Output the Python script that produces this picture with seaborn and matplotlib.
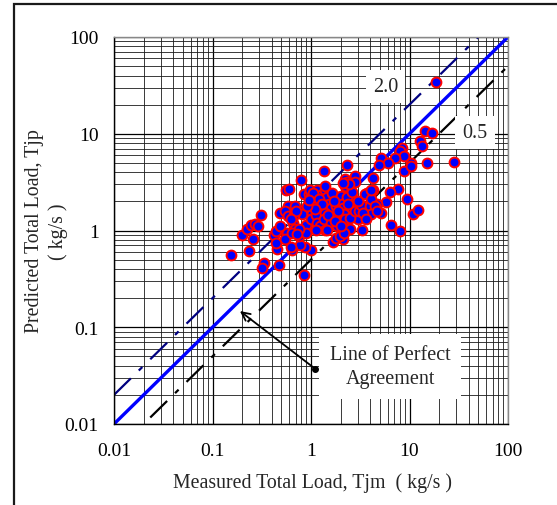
import matplotlib
matplotlib.use("Agg")
import matplotlib.pyplot as plt
import matplotlib.ticker as mticker
from matplotlib.patches import Rectangle
import numpy as np
import pandas as pd
import seaborn as sns

# ---- data ----
measured = [18.6, 14.5, 17.1, 12.8, 13.3, 8.4, 8.1, 8.8, 7.1, 5.1, 6.0, 4.9, 10.4, 15.1, 28.2,
            8.8, 10.4, 2.3, 1.34, 0.80, 4.3, 2.8, 2.8, 2.2, 7.6, 6.4, 5.8, 9.4, 4.3, 3.66,
            10.8, 12.2, 6.5, 8.1, 3.3, 2.5, 5.1, 4.0, 4.7, 3.0, 2.1, 1.66, 1.8, 0.85, 1.0,
            0.86, 0.78, 0.64, 0.62, 0.47, 0.45, 0.33, 0.32, 0.154, 0.233, 0.198, 0.26, 0.224, 0.245,
            0.27, 0.29, 0.31, 0.42, 0.44, 0.44, 0.49, 0.56, 0.6, 0.58, 0.55, 0.58, 0.57, 0.55,
            0.80, 0.81, 0.66, 0.69, 0.75, 0.86, 0.88, 0.85, 0.96, 0.99, 0.98, 1.04, 1.02, 0.99,
            1.13, 1.16, 1.23, 1.16, 1.26, 1.39, 1.45, 1.52, 1.59, 1.39, 1.34, 1.39, 1.59, 1.72,
            1.8, 1.85, 1.65, 2.03, 2.07, 2.12, 2.2, 2.3, 2.15, 2.2, 2.5, 2.6, 2.7, 2.8, 3.1,
            3.2, 3.5, 4.0, 4.1, 4.5, 4.1, 4.7, 4.1, 1.96, 2.15, 1.85, 1.45, 1.12, 0.88, 0.75,
            0.64, 0.49, 0.67, 0.69, 0.72, 1.05, 1.2, 1.3, 1.1, 1.7, 1.9, 2.3, 2.4, 2.6, 3.0,
            3.4, 3.6, 0.92, 0.7, 0.62, 1.5, 1.75, 2.0, 2.45, 2.1, 1.4, 0.95]
predicted = [34.2, 10.8, 10.2, 8.4, 7.4, 7.2, 6.6, 5.9, 5.6, 5.6, 5.0, 4.7, 5.0, 5.0, 5.1,
             4.1, 4.6, 4.8, 4.1, 3.3, 3.45, 3.65, 3.2, 3.4, 2.7, 2.5, 1.98, 2.1, 2.65, 2.45,
             1.47, 1.62, 1.13, 1.0, 1.02, 1.03, 1.52, 1.61, 1.86, 1.32, 0.81, 0.76, 0.84, 0.35, 0.63,
             0.67, 0.70, 0.63, 0.67, 0.44, 0.64, 0.46, 0.41, 0.56, 0.61, 0.89, 0.82, 1.04, 1.15,
             1.16, 1.1, 1.43, 0.89, 1.0, 0.74, 1.52, 2.6, 2.7, 1.79, 1.6, 1.4, 0.95, 0.82,
             1.58, 1.47, 1.2, 1.03, 0.87, 1.03, 1.15, 2.4, 2.4, 2.2, 2.6, 1.79, 1.52, 1.3,
             1.43, 1.2, 1.1, 2.6, 2.35, 2.6, 2.2, 1.9, 1.7, 1.52, 1.3, 1.02, 1.2, 1.38,
             1.79, 2.2, 2.45, 2.3, 1.9, 1.72, 2.9, 3.2, 1.47, 1.3, 1.35, 1.72, 2.1, 1.6, 1.6,
             1.85, 2.4, 1.79, 2.1, 1.79, 1.47, 1.6, 2.6, 0.87, 0.95, 1.1, 1.02, 1.02, 0.95, 1.03,
             0.95, 1.1, 1.43, 1.79, 0.91, 2.45, 2.1, 1.9, 1.65, 2.0, 1.6, 2.2, 1.9, 2.5, 2.0,
             1.5, 1.3, 1.8, 1.6, 1.3, 1.45, 1.25, 1.1, 3.0, 3.1, 2.9, 2.05]

ref_x = [0.01, 100.0]           # extent of the reference lines
ratios = [1.0, 2.0, 0.5]         # perfect agreement, 2.0 and 0.5 bands
tick_values = [0.01, 0.1, 1, 10, 100]
tick_labels = ["0.01", "0.1", "1", "10", "100"]

df = pd.DataFrame({"Tjm": measured, "Tjp": predicted})

# ---- style ----
sns.set_style("white")
plt.rcParams["font.family"] = ["Liberation Serif", "DejaVu Serif"]
plt.rcParams["lines.scale_dashes"] = False

fig = plt.figure(figsize=(5.57, 5.06), dpi=100)
ax = fig.add_axes([114 / 557, 1 - 425 / 506, 394 / 557, 387 / 506])

ax.set_xscale("log")
ax.set_yscale("log")
ax.set_xlim(0.01, 100)
ax.set_ylim(0.01, 100)

# grid
ax.set_axisbelow(True)
ax.grid(True, which="major", color="black", lw=0.9)
ax.grid(True, which="minor", color="#1a1a1a", lw=0.6)

# reference lines
rx = np.array(ref_x)
ax.plot(rx, rx * ratios[0], color="#0000FF", lw=2.4, zorder=2, solid_capstyle="butt")
ax.plot(rx, rx * ratios[1], color="#000080", lw=1.6, zorder=2,
        dashes=(17, 8, 3.6, 8))
ax.plot(rx, rx * ratios[2], color="black", lw=1.6, zorder=2,
        dashes=(17, 8, 3.6, 8))

# scatter points
sns.scatterplot(data=df, x="Tjm", y="Tjp", ax=ax, marker="o", s=50,
                color="#0000FF", edgecolor="#FF0000", linewidth=1.4, zorder=3,
                legend=False)

# labels in white boxes
ax.text(5.7, 30.8, "2.0", fontsize=14.5, ha="center", va="center", zorder=5,
        bbox=dict(boxstyle="square,pad=0.35", fc="white", ec="none"))
ax.text(46.2, 10.2, "0.5", fontsize=14.5, ha="center", va="center", zorder=5,
        bbox=dict(boxstyle="square,pad=0.35", fc="white", ec="none"))
ax.text(6.34, 0.0393, "Line of Perfect\nAgreement", fontsize=14.5, ha="center", va="center",
        linespacing=1.3, zorder=5,
        bbox=dict(boxstyle="square,pad=0.55", fc="white", ec="none"))

# arrow to the line of perfect agreement
ax.annotate("", xy=(0.19, 0.147), xytext=(1.11, 0.037),
            arrowprops=dict(arrowstyle="->,head_length=0.6,head_width=0.3",
                            color="black", lw=1.3, shrinkA=0, shrinkB=0), zorder=6)
ax.plot([1.11], [0.037], "o", color="black", ms=4, zorder=6)

# ticks
ax.xaxis.set_major_locator(mticker.FixedLocator(tick_values))
ax.yaxis.set_major_locator(mticker.FixedLocator(tick_values))
ax.xaxis.set_major_formatter(mticker.FixedFormatter(tick_labels))
ax.yaxis.set_major_formatter(mticker.FixedFormatter(tick_labels))
ax.xaxis.set_minor_locator(mticker.LogLocator(base=10, subs=np.arange(2, 10)))
ax.yaxis.set_minor_locator(mticker.LogLocator(base=10, subs=np.arange(2, 10)))
ax.xaxis.set_minor_formatter(mticker.NullFormatter())
ax.yaxis.set_minor_formatter(mticker.NullFormatter())
ax.tick_params(axis="both", which="major", direction="out", length=3, width=0.8,
               labelsize=14, colors="black")
ax.tick_params(axis="x", which="major", pad=10)
ax.tick_params(axis="y", which="major", pad=8)
ax.tick_params(axis="both", which="minor", length=0)

for side in ["left", "bottom"]:
    ax.spines[side].set_color("black")
    ax.spines[side].set_linewidth(1.0)
for side in ["top", "right"]:
    ax.spines[side].set_color("#888888")
    ax.spines[side].set_linewidth(1.0)

ax.set_xlabel("Measured Total Load, Tjm  ( kg/s )", fontsize=14.3)
ax.set_ylabel("Predicted Total Load, Tjp\n( kg/s )", fontsize=14.3, linespacing=1.3)
ax.xaxis.set_label_coords(0.505, -0.150)
ax.yaxis.set_label_coords(-0.171, 0.5)
ax.xaxis.label.set_va("center")
ax.yaxis.label.set_va("center")

# outer border
fig.patches.append(Rectangle((14 / 557, -0.1), 1.2, 0.1 + (1 - 5 / 506),
                             transform=fig.transFigure, fill=False,
                             ec="#1a1a1a", lw=1.6))

fig.savefig("out.png", dpi=100)
